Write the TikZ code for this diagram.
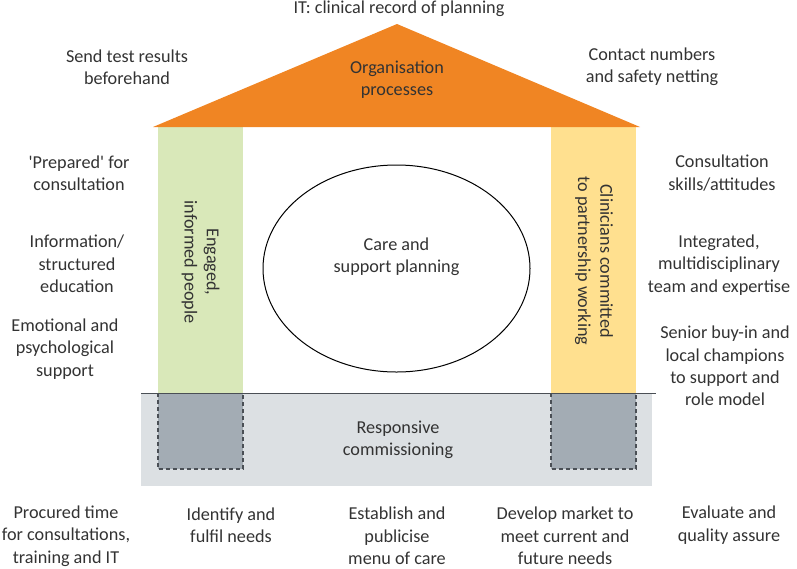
\documentclass[tikz,border=0pt]{standalone}
\usepackage{fontspec}
\setmainfont{Carlito}
\usetikzlibrary{shapes.geometric}
\definecolor{roof}{HTML}{F08523}
\definecolor{pgreen}{HTML}{D9E8B9}
\definecolor{pyellow}{HTML}{FFE08F}
\definecolor{basegray}{HTML}{DCE0E3}
\definecolor{footgray}{HTML}{A3ACB4}
\definecolor{txt}{HTML}{333333}
\definecolor{dashc}{HTML}{4A4F55}
\begin{document}
\begin{tikzpicture}[x=1pt,y=-1pt,
  lbl/.style={align=center, text=txt, font=\fontsize{18.2}{22.3}\selectfont, inner sep=0pt},
  footbox/.style={fill=footgray, draw=dashc, line width=1.1pt, dash pattern=on 4pt off 3pt}]
\useasboundingbox (0,0) rectangle (797,568);
% base
\fill[basegray] (141,393) rectangle (652,486);
\draw[footbox] (158,393) rectangle (243,469);
\draw[footbox] (551,393) rectangle (636,469);
% pillars
\fill[pgreen] (158,127) rectangle (243,393);
\fill[pyellow] (551,127) rectangle (636,393);
\coordinate (bl) at (141,393);
\coordinate (br) at (656,393);
\draw[line width=1pt, color=dashc] (bl) -- (br);
% roof
\coordinate (rl) at (153,127);
\coordinate (rt) at (397,24);
\coordinate (rr) at (640,127);
\fill[roof] (rl) -- (rt) -- (rr) -- cycle;
% ellipse
\node[ellipse, draw, line width=1pt, minimum width=267pt, minimum height=207pt, inner sep=0pt] (care) at (396.5,268.5) {};
\node[lbl] (caretxt) at (396.5,257) {Care and\\support planning};
% texts
\node[lbl] (it) at (399,9) {IT: clinical record of planning};
\node[lbl] (org) at (397,80) {Organisation\\processes};
\node[lbl] (send) at (127,67) {Send test results\\beforehand};
\node[lbl] (contact) at (652,67) {Contact numbers\\and safety netting};
\node[lbl] (prep) at (79,173) {\textquotesingle Prepared\textquotesingle{} for\\consultation};
\node[lbl] (info) at (77,264) {Information/\\structured\\education};
\node[lbl] (emo) at (65,349) {Emotional and\\psychological\\support};
\node[lbl] (cons) at (722,173) {Consultation\\skills/attitudes};
\node[lbl] (integ) at (719,265) {Integrated,\\multidisciplinary\\team and expertise};
\node[lbl] (senior) at (725,366) {Senior buy-in and\\local champions\\to support and\\role model};
\node[lbl, rotate=-90] (engaged) at (200.5,262) {Engaged,\\informed people};
\node[lbl, rotate=-90] (clin) at (594,261) {Clinicians committed\\to partnership working};
\node[lbl] (resp) at (398,440) {Responsive\\commissioning};
\node[lbl] (proc) at (66,536) {Procured time\\for consultations,\\training and IT};
\node[lbl] (ident) at (231,525) {Identify and\\fulfil needs};
\node[lbl] (estab) at (397,536) {Establish and\\publicise\\menu of care};
\node[lbl] (dev) at (565,536) {Develop market to\\meet current and\\future needs};
\node[lbl] (eval) at (729,525) {Evaluate and\\quality assure};
\end{tikzpicture}
\end{document}
